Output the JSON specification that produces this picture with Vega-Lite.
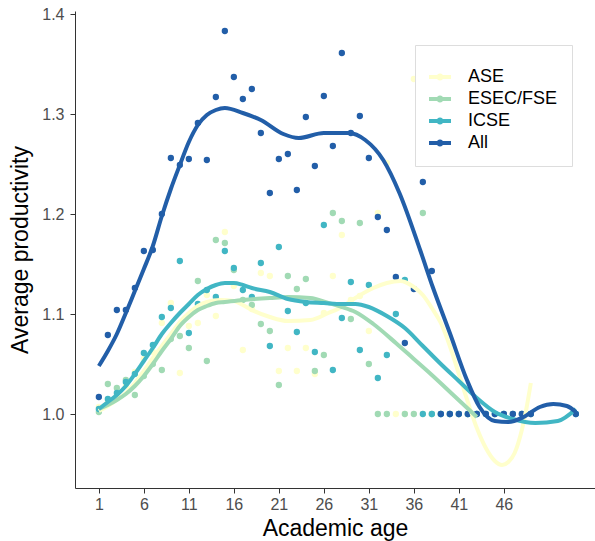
{
  "$schema": "https://vega.github.io/schema/vega-lite/v6.json",
  "autosize": "none",
  "width": 520,
  "height": 477,
  "padding": {"left": 75, "top": 11, "right": 0, "bottom": 53},
  "background": "white",
  "config": {
    "view": {"stroke": null},
    "font": "Liberation Sans"
  },
  "datasets": {
    "pts": [
      {"venue":"ASE","age":1,"prod":1.007},{"venue":"ASE","age":2,"prod":1.012},{"venue":"ASE","age":3,"prod":1.018},{"venue":"ASE","age":4,"prod":1.028},{"venue":"ASE","age":5,"prod":1.042},{"venue":"ASE","age":6,"prod":1.055},{"venue":"ASE","age":7,"prod":1.062},{"venue":"ASE","age":8,"prod":1.091},{"venue":"ASE","age":9,"prod":1.111},{"venue":"ASE","age":10,"prod":1.041},{"venue":"ASE","age":11,"prod":1.088},{"venue":"ASE","age":12,"prod":1.091},{"venue":"ASE","age":13,"prod":1.119},{"venue":"ASE","age":14,"prod":1.098},{"venue":"ASE","age":15,"prod":1.182},{"venue":"ASE","age":16,"prod":1.128},{"venue":"ASE","age":17,"prod":1.064},{"venue":"ASE","age":18,"prod":1.105},{"venue":"ASE","age":19,"prod":1.141},{"venue":"ASE","age":20,"prod":1.138},{"venue":"ASE","age":21,"prod":1.043},{"venue":"ASE","age":22,"prod":1.066},{"venue":"ASE","age":23,"prod":1.043},{"venue":"ASE","age":24,"prod":1.066},{"venue":"ASE","age":25,"prod":1.040},{"venue":"ASE","age":26,"prod":1.101},{"venue":"ASE","age":27,"prod":1.138},{"venue":"ASE","age":28,"prod":1.179},{"venue":"ASE","age":29,"prod":1.114},{"venue":"ASE","age":30,"prod":1.118},{"venue":"ASE","age":31,"prod":1.083},{"venue":"ASE","age":32,"prod":1.201},{"venue":"ASE","age":33,"prod":1.251},{"venue":"ASE","age":34,"prod":1.0},{"venue":"ASE","age":35,"prod":1.0},{"venue":"ASE","age":36,"prod":1.335},{"venue":"ASE","age":37,"prod":1.0},{"venue":"ASE","age":38,"prod":1.0},{"venue":"ASE","age":39,"prod":1.0},{"venue":"ASE","age":40,"prod":1.0},{"venue":"ASE","age":41,"prod":1.0},{"venue":"ASE","age":42,"prod":1.0},{"venue":"ASE","age":43,"prod":1.0},{"venue":"ASE","age":44,"prod":1.0},{"venue":"ASE","age":45,"prod":1.0},{"venue":"ASE","age":46,"prod":1.0},{"venue":"ASE","age":47,"prod":1.0},{"venue":"ASE","age":48,"prod":1.0},{"venue":"ASE","age":49,"prod":1.0},
      {"venue":"ESEC/FSE","age":1,"prod":1.002},{"venue":"ESEC/FSE","age":2,"prod":1.030},{"venue":"ESEC/FSE","age":3,"prod":1.026},{"venue":"ESEC/FSE","age":4,"prod":1.034},{"venue":"ESEC/FSE","age":5,"prod":1.019},{"venue":"ESEC/FSE","age":6,"prod":1.038},{"venue":"ESEC/FSE","age":7,"prod":1.050},{"venue":"ESEC/FSE","age":8,"prod":1.044},{"venue":"ESEC/FSE","age":9,"prod":1.075},{"venue":"ESEC/FSE","age":10,"prod":1.078},{"venue":"ESEC/FSE","age":11,"prod":1.066},{"venue":"ESEC/FSE","age":12,"prod":1.133},{"venue":"ESEC/FSE","age":13,"prod":1.053},{"venue":"ESEC/FSE","age":14,"prod":1.174},{"venue":"ESEC/FSE","age":15,"prod":1.171},{"venue":"ESEC/FSE","age":16,"prod":1.144},{"venue":"ESEC/FSE","age":17,"prod":1.114},{"venue":"ESEC/FSE","age":18,"prod":1.109},{"venue":"ESEC/FSE","age":19,"prod":1.090},{"venue":"ESEC/FSE","age":20,"prod":1.083},{"venue":"ESEC/FSE","age":21,"prod":1.029},{"venue":"ESEC/FSE","age":22,"prod":1.138},{"venue":"ESEC/FSE","age":23,"prod":1.125},{"venue":"ESEC/FSE","age":24,"prod":1.135},{"venue":"ESEC/FSE","age":25,"prod":1.043},{"venue":"ESEC/FSE","age":26,"prod":1.059},{"venue":"ESEC/FSE","age":27,"prod":1.201},{"venue":"ESEC/FSE","age":28,"prod":1.193},{"venue":"ESEC/FSE","age":29,"prod":1.095},{"venue":"ESEC/FSE","age":30,"prod":1.191},{"venue":"ESEC/FSE","age":31,"prod":1.050},{"venue":"ESEC/FSE","age":32,"prod":1.0},{"venue":"ESEC/FSE","age":33,"prod":1.0},{"venue":"ESEC/FSE","age":35,"prod":1.0},{"venue":"ESEC/FSE","age":36,"prod":1.0},{"venue":"ESEC/FSE","age":37,"prod":1.201},{"venue":"ESEC/FSE","age":38,"prod":1.0},{"venue":"ESEC/FSE","age":39,"prod":1.0},{"venue":"ESEC/FSE","age":40,"prod":1.0},{"venue":"ESEC/FSE","age":41,"prod":1.0},{"venue":"ESEC/FSE","age":42,"prod":1.0},{"venue":"ESEC/FSE","age":43,"prod":1.0},
      {"venue":"ICSE","age":1,"prod":1.005},{"venue":"ICSE","age":2,"prod":1.015},{"venue":"ICSE","age":3,"prod":1.021},{"venue":"ICSE","age":4,"prod":1.032},{"venue":"ICSE","age":5,"prod":1.040},{"venue":"ICSE","age":6,"prod":1.061},{"venue":"ICSE","age":7,"prod":1.069},{"venue":"ICSE","age":8,"prod":1.097},{"venue":"ICSE","age":9,"prod":1.106},{"venue":"ICSE","age":10,"prod":1.153},{"venue":"ICSE","age":11,"prod":1.081},{"venue":"ICSE","age":12,"prod":1.110},{"venue":"ICSE","age":13,"prod":1.124},{"venue":"ICSE","age":14,"prod":1.117},{"venue":"ICSE","age":15,"prod":1.163},{"venue":"ICSE","age":16,"prod":1.146},{"venue":"ICSE","age":17,"prod":1.124},{"venue":"ICSE","age":18,"prod":1.117},{"venue":"ICSE","age":19,"prod":1.151},{"venue":"ICSE","age":20,"prod":1.068},{"venue":"ICSE","age":21,"prod":1.167},{"venue":"ICSE","age":22,"prod":1.103},{"venue":"ICSE","age":23,"prod":1.082},{"venue":"ICSE","age":24,"prod":1.111},{"venue":"ICSE","age":25,"prod":1.062},{"venue":"ICSE","age":26,"prod":1.189},{"venue":"ICSE","age":27,"prod":1.044},{"venue":"ICSE","age":28,"prod":1.096},{"venue":"ICSE","age":29,"prod":1.132},{"venue":"ICSE","age":30,"prod":1.064},{"venue":"ICSE","age":31,"prod":1.129},{"venue":"ICSE","age":32,"prod":1.036},{"venue":"ICSE","age":33,"prod":1.059},{"venue":"ICSE","age":34,"prod":1.100},{"venue":"ICSE","age":35,"prod":1.134},{"venue":"ICSE","age":37,"prod":1.0},{"venue":"ICSE","age":38,"prod":1.0},{"venue":"ICSE","age":39,"prod":1.0},{"venue":"ICSE","age":40,"prod":1.0},{"venue":"ICSE","age":41,"prod":1.0},{"venue":"ICSE","age":42,"prod":1.0},{"venue":"ICSE","age":43,"prod":1.0},{"venue":"ICSE","age":44,"prod":1.0},{"venue":"ICSE","age":45,"prod":1.0},{"venue":"ICSE","age":46,"prod":1.0},{"venue":"ICSE","age":47,"prod":1.0},{"venue":"ICSE","age":48,"prod":1.0},{"venue":"ICSE","age":49,"prod":1.0},{"venue":"ICSE","age":54,"prod":1.0},
      {"venue":"All","age":1,"prod":1.017},{"venue":"All","age":2,"prod":1.079},{"venue":"All","age":3,"prod":1.104},{"venue":"All","age":4,"prod":1.104},{"venue":"All","age":5,"prod":1.126},{"venue":"All","age":6,"prod":1.163},{"venue":"All","age":7,"prod":1.164},{"venue":"All","age":8,"prod":1.200},{"venue":"All","age":9,"prod":1.256},{"venue":"All","age":10,"prod":1.249},{"venue":"All","age":11,"prod":1.255},{"venue":"All","age":12,"prod":1.291},{"venue":"All","age":13,"prod":1.254},{"venue":"All","age":14,"prod":1.317},{"venue":"All","age":15,"prod":1.383},{"venue":"All","age":16,"prod":1.337},{"venue":"All","age":17,"prod":1.315},{"venue":"All","age":18,"prod":1.325},{"venue":"All","age":19,"prod":1.281},{"venue":"All","age":20,"prod":1.221},{"venue":"All","age":21,"prod":1.255},{"venue":"All","age":22,"prod":1.260},{"venue":"All","age":23,"prod":1.224},{"venue":"All","age":24,"prod":1.297},{"venue":"All","age":25,"prod":1.248},{"venue":"All","age":26,"prod":1.318},{"venue":"All","age":27,"prod":1.268},{"venue":"All","age":28,"prod":1.361},{"venue":"All","age":29,"prod":1.281},{"venue":"All","age":30,"prod":1.298},{"venue":"All","age":31,"prod":1.256},{"venue":"All","age":32,"prod":1.197},{"venue":"All","age":33,"prod":1.184},{"venue":"All","age":34,"prod":1.137},{"venue":"All","age":35,"prod":1.071},{"venue":"All","age":36,"prod":1.125},{"venue":"All","age":37,"prod":1.232},{"venue":"All","age":38,"prod":1.143},{"venue":"All","age":39,"prod":1.0},{"venue":"All","age":40,"prod":1.0},{"venue":"All","age":41,"prod":1.0},{"venue":"All","age":42,"prod":1.0},{"venue":"All","age":43,"prod":1.0},{"venue":"All","age":44,"prod":1.0},{"venue":"All","age":45,"prod":1.0},{"venue":"All","age":46,"prod":1.0},{"venue":"All","age":47,"prod":1.0},{"venue":"All","age":48,"prod":1.0},{"venue":"All","age":49,"prod":1.0},{"venue":"All","age":54,"prod":1.0}
    ],
    "curves": [
      {"venue":"ASE","age":1,"fit":1.003},{"venue":"ASE","age":2,"fit":1.008},{"venue":"ASE","age":3,"fit":1.014},{"venue":"ASE","age":4,"fit":1.021},{"venue":"ASE","age":5,"fit":1.031},{"venue":"ASE","age":6,"fit":1.043},{"venue":"ASE","age":7,"fit":1.056},{"venue":"ASE","age":8,"fit":1.068},{"venue":"ASE","age":9,"fit":1.080},{"venue":"ASE","age":10,"fit":1.092},{"venue":"ASE","age":11,"fit":1.101},{"venue":"ASE","age":12,"fit":1.108},{"venue":"ASE","age":13,"fit":1.112},{"venue":"ASE","age":14.5,"fit":1.114},{"venue":"ASE","age":16,"fit":1.113},{"venue":"ASE","age":17,"fit":1.109},{"venue":"ASE","age":18,"fit":1.104},{"venue":"ASE","age":20,"fit":1.097},{"venue":"ASE","age":22,"fit":1.093},{"venue":"ASE","age":24.5,"fit":1.094},{"venue":"ASE","age":26.5,"fit":1.101},{"venue":"ASE","age":28,"fit":1.107},{"venue":"ASE","age":29.5,"fit":1.116},{"venue":"ASE","age":31.5,"fit":1.126},{"venue":"ASE","age":33,"fit":1.131},{"venue":"ASE","age":34.5,"fit":1.133},{"venue":"ASE","age":36,"fit":1.127},{"venue":"ASE","age":37,"fit":1.119},{"venue":"ASE","age":38,"fit":1.106},{"venue":"ASE","age":39,"fit":1.091},{"venue":"ASE","age":40,"fit":1.068},{"venue":"ASE","age":41,"fit":1.040},{"venue":"ASE","age":42,"fit":1.012},{"venue":"ASE","age":43,"fit":0.986},{"venue":"ASE","age":44,"fit":0.966},{"venue":"ASE","age":45,"fit":0.953},{"venue":"ASE","age":45.8,"fit":0.949},{"venue":"ASE","age":46.5,"fit":0.952},{"venue":"ASE","age":47.2,"fit":0.961},{"venue":"ASE","age":48,"fit":0.984},{"venue":"ASE","age":48.5,"fit":1.005},{"venue":"ASE","age":49,"fit":1.031},
      {"venue":"ESEC/FSE","age":1,"fit":1.005},{"venue":"ESEC/FSE","age":2,"fit":1.009},{"venue":"ESEC/FSE","age":3,"fit":1.014},{"venue":"ESEC/FSE","age":4,"fit":1.020},{"venue":"ESEC/FSE","age":5,"fit":1.028},{"venue":"ESEC/FSE","age":6,"fit":1.038},{"venue":"ESEC/FSE","age":7,"fit":1.050},{"venue":"ESEC/FSE","age":8,"fit":1.063},{"venue":"ESEC/FSE","age":9,"fit":1.075},{"venue":"ESEC/FSE","age":10,"fit":1.088},{"venue":"ESEC/FSE","age":11,"fit":1.097},{"venue":"ESEC/FSE","age":12,"fit":1.104},{"venue":"ESEC/FSE","age":13,"fit":1.108},{"venue":"ESEC/FSE","age":14,"fit":1.111},{"venue":"ESEC/FSE","age":15,"fit":1.112},{"venue":"ESEC/FSE","age":17,"fit":1.114},{"venue":"ESEC/FSE","age":20,"fit":1.116},{"venue":"ESEC/FSE","age":22,"fit":1.117},{"venue":"ESEC/FSE","age":24.5,"fit":1.116},{"venue":"ESEC/FSE","age":26.5,"fit":1.111},{"venue":"ESEC/FSE","age":28,"fit":1.107},{"venue":"ESEC/FSE","age":29.5,"fit":1.102},{"venue":"ESEC/FSE","age":31.5,"fit":1.090},{"venue":"ESEC/FSE","age":34,"fit":1.071},{"venue":"ESEC/FSE","age":36,"fit":1.055},{"venue":"ESEC/FSE","age":38,"fit":1.039},{"venue":"ESEC/FSE","age":40.5,"fit":1.018},{"venue":"ESEC/FSE","age":43,"fit":0.997},
      {"venue":"ICSE","age":1,"fit":1.005},{"venue":"ICSE","age":2,"fit":1.012},{"venue":"ICSE","age":3,"fit":1.019},{"venue":"ICSE","age":4,"fit":1.028},{"venue":"ICSE","age":5,"fit":1.040},{"venue":"ICSE","age":6,"fit":1.053},{"venue":"ICSE","age":7,"fit":1.066},{"venue":"ICSE","age":8,"fit":1.080},{"venue":"ICSE","age":9,"fit":1.091},{"venue":"ICSE","age":10,"fit":1.101},{"venue":"ICSE","age":11,"fit":1.110},{"venue":"ICSE","age":12,"fit":1.119},{"venue":"ICSE","age":13,"fit":1.125},{"venue":"ICSE","age":14,"fit":1.129},{"venue":"ICSE","age":15,"fit":1.131},{"venue":"ICSE","age":16,"fit":1.131},{"venue":"ICSE","age":17,"fit":1.129},{"venue":"ICSE","age":18,"fit":1.126},{"venue":"ICSE","age":20,"fit":1.122},{"venue":"ICSE","age":22,"fit":1.115},{"venue":"ICSE","age":24,"fit":1.112},{"venue":"ICSE","age":26,"fit":1.111},{"venue":"ICSE","age":28,"fit":1.110},{"venue":"ICSE","age":29.5,"fit":1.110},{"venue":"ICSE","age":31,"fit":1.107},{"venue":"ICSE","age":33,"fit":1.098},{"venue":"ICSE","age":35,"fit":1.086},{"venue":"ICSE","age":37,"fit":1.068},{"venue":"ICSE","age":39,"fit":1.050},{"venue":"ICSE","age":41,"fit":1.033},{"venue":"ICSE","age":43,"fit":1.016},{"venue":"ICSE","age":45,"fit":1.002},{"venue":"ICSE","age":47,"fit":0.995},{"venue":"ICSE","age":49.5,"fit":0.991},{"venue":"ICSE","age":52,"fit":0.993},{"venue":"ICSE","age":54,"fit":1.005},
      {"venue":"All","age":1,"fit":1.048},{"venue":"All","age":2,"fit":1.063},{"venue":"All","age":3,"fit":1.080},{"venue":"All","age":4,"fit":1.101},{"venue":"All","age":5,"fit":1.123},{"venue":"All","age":6,"fit":1.145},{"venue":"All","age":7,"fit":1.168},{"venue":"All","age":8,"fit":1.198},{"venue":"All","age":9,"fit":1.225},{"venue":"All","age":10,"fit":1.249},{"venue":"All","age":11,"fit":1.272},{"venue":"All","age":12,"fit":1.289},{"venue":"All","age":13,"fit":1.299},{"venue":"All","age":14,"fit":1.304},{"venue":"All","age":15,"fit":1.306},{"venue":"All","age":17,"fit":1.301},{"venue":"All","age":19,"fit":1.294},{"venue":"All","age":21.5,"fit":1.280},{"venue":"All","age":23.2,"fit":1.276},{"venue":"All","age":26,"fit":1.281},{"venue":"All","age":28.8,"fit":1.281},{"venue":"All","age":30.6,"fit":1.274},{"venue":"All","age":32.6,"fit":1.254},{"venue":"All","age":34.4,"fit":1.221},{"venue":"All","age":36.7,"fit":1.164},{"venue":"All","age":38.1,"fit":1.127},{"venue":"All","age":40,"fit":1.081},{"venue":"All","age":41.9,"fit":1.034},{"venue":"All","age":43.3,"fit":1.007},{"venue":"All","age":45,"fit":0.993},{"venue":"All","age":46.5,"fit":0.992},{"venue":"All","age":48.2,"fit":0.997},{"venue":"All","age":50,"fit":1.007},{"venue":"All","age":51.5,"fit":1.010},{"venue":"All","age":53,"fit":1.008},{"venue":"All","age":54,"fit":1.002}
    ]
  },
  "layer": [
    {
      "data": {"name": "pts"},
      "mark": {"type": "circle", "size": 40, "opacity": 1},
      "encoding": {
        "x": {"field": "age", "type": "quantitative",
              "scale": {"domain": [-1.65, 56.13], "nice": false, "zero": false},
              "axis": {"values": [1,6,11,16,21,26,31,36,41,46], "title": "Academic age", "grid": false,
                       "domainColor": "#333333", "tickColor": "#333333", "tickSize": 5,
                       "labelFontSize": 16, "labelColor": "#4d4d4d", "labelPadding": 3,
                       "titleFontSize": 23, "titleFontWeight": "normal", "titleColor": "black", "titlePadding": 5}},
        "y": {"field": "prod", "type": "quantitative",
              "scale": {"domain": [0.926, 1.403], "nice": false, "zero": false},
              "axis": {"values": [1.0,1.1,1.2,1.3,1.4], "format": ".1f", "title": "Average productivity", "grid": false,
                       "domainColor": "#333333", "tickColor": "#333333", "tickSize": 5,
                       "labelFontSize": 16, "labelColor": "#4d4d4d", "labelPadding": 6,
                       "titleFontSize": 23, "titleFontWeight": "normal", "titleColor": "black", "titlePadding": 9}},
        "color": {"field": "venue", "type": "nominal",
                  "scale": {"domain": ["ASE","ESEC/FSE","ICSE","All"], "range": ["#FFFFCC","#A1DAB4","#41B6C4","#225EA8"]},
                  "legend": {"title": " ", "titleFontSize": 7, "titlePadding": 0, "orient": "none", "legendX": 340, "legendY": 34,
                             "padding": 14, "fillColor": "white", "strokeColor": "#dddddd",
                             "symbolType": "M-1,-0.18H1V0.18H-1Z M0.32,0A0.32,0.32,0,1,1,-0.32,0A0.32,0.32,0,1,1,0.32,0Z",
                             "symbolSize": 484, "symbolStrokeWidth": 0, "symbolOpacity": 1,
                             "labelFontSize": 18, "labelColor": "black", "labelOffset": 17, "rowPadding": 2}},
        "order": {"value": 0}
      }
    },
    {
      "data": {"name": "curves"},
      "mark": {"type": "line", "strokeWidth": 4, "interpolate": "monotone", "clip": true},
      "encoding": {
        "x": {"field": "age", "type": "quantitative"},
        "y": {"field": "fit", "type": "quantitative"},
        "color": {"field": "venue", "type": "nominal", "legend": null}
      }
    }
  ]
}
